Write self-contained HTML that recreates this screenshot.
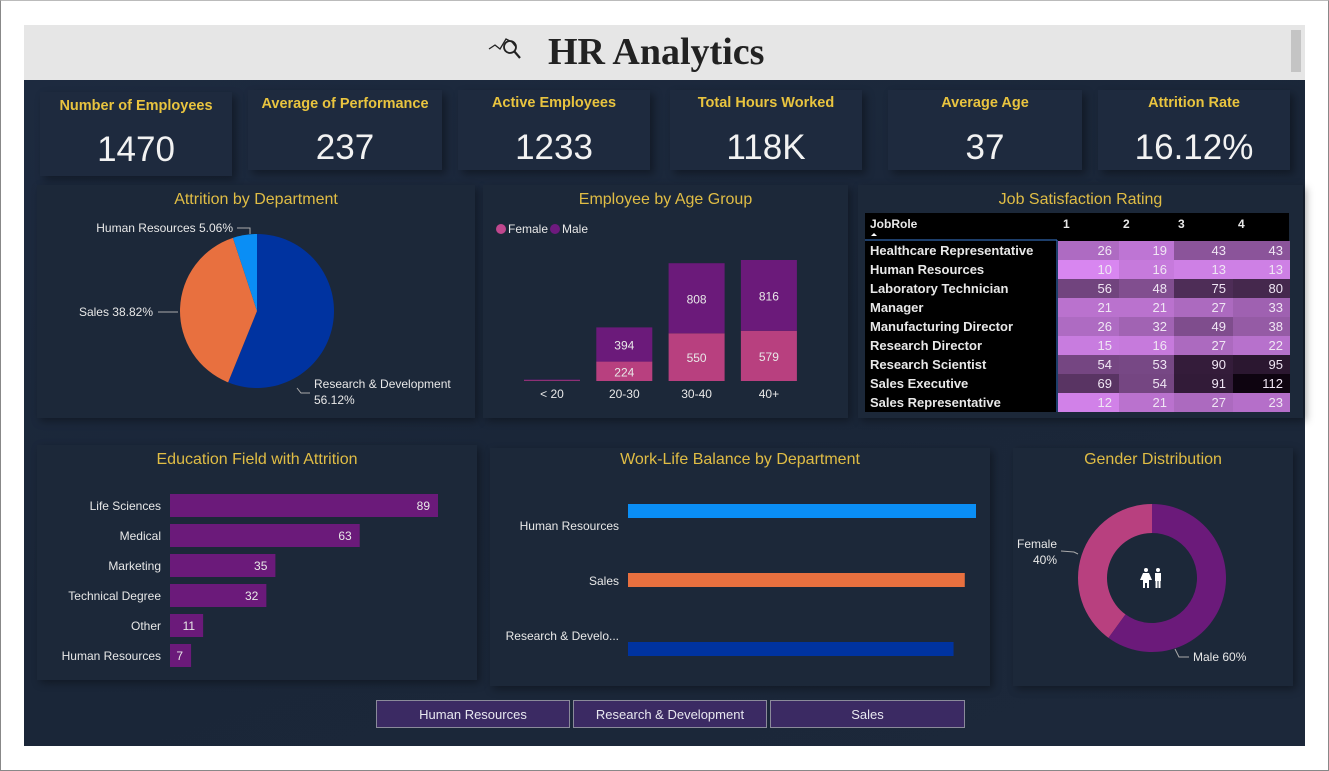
<!DOCTYPE html>
<html><head><meta charset="utf-8"><style>
*{margin:0;padding:0;box-sizing:border-box}
body{width:1329px;height:771px;background:#fff;position:relative;overflow:hidden;font-family:"Liberation Sans",sans-serif}
.frame{position:absolute;left:0;top:0;width:1329px;height:771px;border:1px solid #888;border-top:1px solid #bbb}
.header{position:absolute;left:24px;top:25px;width:1281px;height:55px;background:#e6e6e6}
.title{position:absolute;left:548px;top:30px;font-family:"Liberation Serif",serif;font-weight:bold;font-size:38px;color:#222}
.scroll{position:absolute;left:1291px;top:30px;width:10px;height:42px;background:#c4c4c4}
.dash{position:absolute;left:24px;top:80px;width:1281px;height:666px;background:linear-gradient(160deg,#1d2a3f 0%,#1a2638 50%,#1c283a 100%)}
.card{position:absolute;background:#1e2a3e;box-shadow:4px 4px 8px rgba(0,0,0,0.35)}
.kt{position:absolute;width:100%;text-align:center;color:#e9c43f;font-weight:bold;font-size:14.5px}
.kv{position:absolute;width:100%;text-align:center;color:#f2f2f2;font-size:35px}
.panel{position:absolute;background:#1c2839;box-shadow:3px 3px 8px rgba(0,0,0,0.35)}
.pt{position:absolute;width:100%;text-align:center;color:#e0bd45;font-size:16px}
.btn{position:absolute;top:700px;height:28px;background:#3b2a63;border:1px solid #8a8a9a;color:#e8e8f0;font-size:13px;text-align:center;line-height:27px}
svg{position:absolute;left:0;top:0}
</style></head><body>
<div class="frame"></div>
<div class="header"></div>
<svg width="60" height="40" style="left:486px;top:36px">
<polyline points="3,13 9,9 14,13 20,3 26,6 30,11" fill="none" stroke="#222" stroke-width="1.3"/>
<circle cx="24" cy="11" r="6" fill="none" stroke="#222" stroke-width="1.8"/>
<line x1="28" y1="15" x2="34" y2="22" stroke="#222" stroke-width="2.2"/>
</svg>
<div class="title">HR Analytics</div>
<div class="scroll"></div>
<div class="dash"></div>

<div class="card" style="left:40px;top:92px;width:192px;height:84px"><div class="kt" style="top:6px">Number of Employees</div><div class="kv" style="top:38px">1470</div></div>
<div class="card" style="left:248px;top:90px;width:194px;height:80px"><div class="kt" style="top:6px">Average of Performance</div><div class="kv" style="top:38px">237</div></div>
<div class="card" style="left:458px;top:90px;width:192px;height:80px"><div class="kt" style="top:5px">Active Employees</div><div class="kv" style="top:38px">1233</div></div>
<div class="card" style="left:670px;top:90px;width:192px;height:80px"><div class="kt" style="top:5px">Total Hours Worked</div><div class="kv" style="top:38px">118K</div></div>
<div class="card" style="left:888px;top:90px;width:194px;height:80px"><div class="kt" style="top:5px">Average Age</div><div class="kv" style="top:38px">37</div></div>
<div class="card" style="left:1098px;top:90px;width:192px;height:80px"><div class="kt" style="top:5px">Attrition Rate</div><div class="kv" style="top:38px">16.12%</div></div>

<div class="panel" style="left:37px;top:185px;width:438px;height:233px"><div class="pt" style="top:6px">Attrition by Department</div></div>
<div class="panel" style="left:483px;top:185px;width:365px;height:233px"><div class="pt" style="top:6px">Employee by Age Group</div></div>
<div class="panel" style="left:858px;top:185px;width:445px;height:233px"><div class="pt" style="top:6px">Job Satisfaction Rating</div></div>
<div class="panel" style="left:37px;top:445px;width:440px;height:235px"><div class="pt" style="top:6px">Education Field with Attrition</div></div>
<div class="panel" style="left:490px;top:448px;width:500px;height:238px"><div class="pt" style="top:3px">Work-Life Balance by Department</div></div>
<div class="panel" style="left:1013px;top:448px;width:280px;height:238px"><div class="pt" style="top:3px">Gender Distribution</div></div>

<div class="btn" style="left:376px;width:194px">Human Resources</div>
<div class="btn" style="left:573px;width:194px">Research &amp; Development</div>
<div class="btn" style="left:770px;width:195px">Sales</div>

<svg id="charts" width="1329" height="771"></svg>

<script>
// Attrition by department (pie)
const pieDepts=["Research & Development","Sales","Human Resources"];
const pieValues=[56.12,38.82,5.06];
// Age group stacked
const ageGroups=["< 20","20-30","30-40","40+"];
const ageFemale=[8,224,550,579];
const ageMale=[8,394,808,816];
// Job satisfaction
const jobRoles=["Healthcare Representative","Human Resources","Laboratory Technician","Manager","Manufacturing Director","Research Director","Research Scientist","Sales Executive","Sales Representative"];
const satLevels=["1","2","3","4"];
const satValues=[[26,19,43,43],[10,16,13,13],[56,48,75,80],[21,21,27,33],[26,32,49,38],[15,16,27,22],[54,53,90,95],[69,54,91,112],[12,21,27,23]];
// Education
const eduFields=["Life Sciences","Medical","Marketing","Technical Degree","Other","Human Resources"];
const eduValues=[89,63,35,32,11,7];
// Work-life
const wlDepts=["Human Resources","Sales","Research & Develo..."];
const wlValues=[2.79,2.70,2.61];
// Gender
const genders=["Female","Male"];
const genderValues=[40,60];

const svg=document.getElementById('charts');
const NS="http://www.w3.org/2000/svg";
function mk(tag,attrs,parent){const e=document.createElementNS(NS,tag);for(const k in attrs)e.setAttribute(k,attrs[k]);(parent||svg).appendChild(e);return e;}
function txt(x,y,s,attrs){const e=mk('text',Object.assign({x:x,y:y,fill:'#e8e8e8','font-size':12,'font-family':'Liberation Sans, sans-serif'},attrs||{}));e.textContent=s;return e;}
function arc(cx,cy,r0,r1,a0,a1){const p=(r,a)=>[cx+r*Math.sin(a),cy-r*Math.cos(a)];const lg=(a1-a0)>Math.PI?1:0;
 const [x1,y1]=p(r1,a0),[x2,y2]=p(r1,a1);
 if(r0===0)return `M${cx},${cy}L${x1},${y1}A${r1},${r1} 0 ${lg} 1 ${x2},${y2}Z`;
 const [x3,y3]=p(r0,a1),[x4,y4]=p(r0,a0);
 return `M${x1},${y1}A${r1},${r1} 0 ${lg} 1 ${x2},${y2}L${x3},${y3}A${r0},${r0} 0 ${lg} 0 ${x4},${y4}Z`;}

// Pie
(function(){const cx=257,cy=311,r=77;const cols=["#0033a0","#e8703f","#0a8ef5"];const tot=pieValues.reduce((a,b)=>a+b,0);let a=0;
 pieValues.forEach((v,i)=>{const a1=a+v/tot*2*Math.PI;const e=mk('path',{d:arc(cx,cy,0,r,a,a1),fill:cols[i]});
 
 a=a1;});
 txt(314,388,pieDepts[0],{});txt(314,404,pieValues[0].toFixed(2)+"%",{});
 mk('polyline',{points:"297,388 301,393 310,393",fill:'none',stroke:'#aaa'});
 txt(153,316,pieDepts[1]+" "+pieValues[1].toFixed(2)+"%",{'text-anchor':'end'});
 mk('line',{x1:158,y1:312,x2:178,y2:312,stroke:'#aaa'});
 txt(233,232,pieDepts[2]+" "+pieValues[2].toFixed(2)+"%",{'text-anchor':'end'});
 mk('polyline',{points:"237,228 250,228 250,234",fill:'none',stroke:'#aaa'});
})();

// Age group
(function(){const base=381,sc=121/1395,x0=524,step=72.3,bw=56;
 mk('circle',{cx:501,cy:229,r:5,fill:'#c0478e'});txt(508,233,"Female",{});
 mk('circle',{cx:555,cy:229,r:5,fill:'#6e1a7e'});txt(562,233,"Male",{});
 ageGroups.forEach((g,i)=>{const x=x0+i*step;const hf=ageFemale[i]*sc,hm=ageMale[i]*sc;
  const f=mk('rect',{x:x,y:base-hf,width:bw,height:hf,fill:'#b8407f'});
  
  
  const m=mk('rect',{x:x,y:base-hf-hm,width:bw,height:hm,fill:'#6b1a7a'});
  
  
  if(ageFemale[i]>100){txt(x+bw/2,base-hf/2+5,ageFemale[i],{'text-anchor':'middle'});txt(x+bw/2,base-hf-hm/2+5,ageMale[i],{'text-anchor':'middle'});}
  txt(x+bw/2,398,g,{'text-anchor':'middle'});});
})();

// Heatmap
(function(){const x0=865,top=213;mk('rect',{x:x0,y:top,width:424,height:199,fill:'#000'});
 txt(870,228,"JobRole",{'font-weight':'bold','font-size':12});mk('path',{d:"M871,236 l3,-3 l3,3z",fill:'#fff'});
 const cx=[1057,1118,1173,1232,1289];
 satLevels.forEach((s,j)=>txt([1063,1123,1178,1238][j],228,s,{'font-weight':'bold'}));
 mk('line',{x1:865,y1:240,x2:1057,y2:240,stroke:'#3a7bd5','stroke-width':1});
 mk('line',{x1:1057,y1:240,x2:1057,y2:412,stroke:'#3a7bd5','stroke-width':1});
 const lo=[216,134,240],hi=[14,4,16];
 jobRoles.forEach((r,i)=>{const y=241+i*19;txt(870,y+14,r,{'font-weight':'bold','font-size':13});
  satValues[i].forEach((v,j)=>{const t=Math.min(1,Math.max(0,(v-10)/102));const t2=Math.pow(t,0.85);
   const c=lo.map((l,k)=>Math.round(l+(hi[k]-l)*t2));
   const e=mk('rect',{x:cx[j]+1,y:y,width:cx[j+1]-cx[j],height:19,fill:`rgb(${c})`});
   
   
   txt(cx[j+1]-6,y+14,v,{'text-anchor':'end','font-size':13,fill:'#f0e6f4'});});});
})();

// Education
(function(){const x0=170,sc=268/89,bh=23;
 eduFields.forEach((f,i)=>{const y=494+i*30;const w=eduValues[i]*sc;
  const e=mk('rect',{x:x0,y:y,width:w,height:bh,fill:'#6b1a7a'});
  
  
  txt(161,y+16,f,{'text-anchor':'end'});txt(x0+w-8,y+16,eduValues[i],{'text-anchor':'end'});});
})();

// Work-life
(function(){const x0=628,sc=348/2.79;const cols=["#0a8ef5","#e8703f","#0033a0"];const ys=[504,573,642],ly=[530,585,640];
 wlDepts.forEach((d,i)=>{const e=mk('rect',{x:x0,y:ys[i],width:wlValues[i]*sc,height:14,fill:cols[i]});
  
  
  txt(619,ly[i],d,{'text-anchor':'end'});});
})();

// Gender donut
(function(){const cx=1152,cy=578,r0=45,r1=74;const cols=["#b8407f","#6b1a7a"];let a=0;
 const tot=genderValues.reduce((x,y)=>x+y,0);
 genderValues.forEach((v,i)=>{const a1=a-v/tot*2*Math.PI;const e=mk('path',{d:arc(cx,cy,r0,r1,a1,a),fill:cols[i]});
  
  a=a1;});
 txt(1057,548,genders[0],{'text-anchor':'end'});txt(1057,564,genderValues[0]+"%",{'text-anchor':'end'});
 mk('polyline',{points:"1061,551 1074,552 1078,554",fill:'none',stroke:'#aaa'});
 txt(1193,661,genders[1]+" "+genderValues[1]+"%",{});
 mk('polyline',{points:"1175,649 1179,657 1189,657",fill:'none',stroke:'#aaa'});
 const g=mk('g',{fill:'#fff'});
 mk('circle',{cx:1146,cy:570,r:2},g);mk('path',{d:"M1143,573 h6 l3,7 h-3 v8 h-2 v-5 h-2 v5 h-2 v-8 h-3z"},g);
 mk('circle',{cx:1158,cy:570,r:2},g);mk('rect',{x:1155,y:573,width:6,height:8},g);mk('rect',{x:1155.5,y:580,width:2,height:8},g);mk('rect',{x:1158.5,y:580,width:2,height:8},g);
})();
</script>
</body></html>
